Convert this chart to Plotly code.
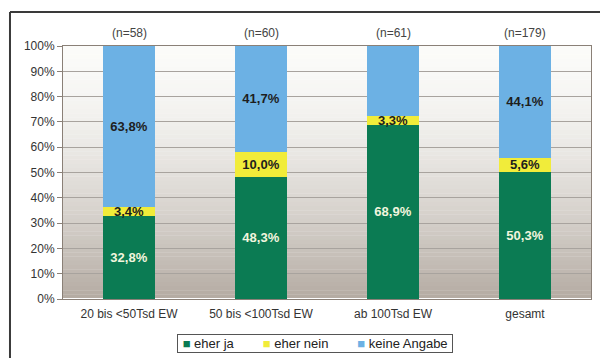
import plotly.graph_objects as go

# Survey answers by municipality size (share in %)
categories = ["20 bis <50Tsd EW", "50 bis <100Tsd EW", "ab 100Tsd EW", "gesamt"]
sample_sizes = ["(n=58)", "(n=60)", "(n=61)", "(n=179)"]
eher_ja = [32.8, 48.3, 68.9, 50.3]
eher_nein = [3.4, 10.0, 3.3, 5.6]
keine_angabe = [63.8, 41.7, 27.9, 44.1]

series = [
    ("eher ja", eher_ja, "#0b7b53", "#f2f5de"),
    ("eher nein", eher_nein, "#f1ec3a", "#1e1e1e"),
    ("keine Angabe", keine_angabe, "#6cb1e4", "#1e1e1e"),
]

fig = go.Figure()
for name, vals, color, tcolor in series:
    fig.add_trace(go.Bar(
        x=categories, y=vals, name=name,
        marker=dict(color=color, line=dict(width=0)),
        texttemplate="%{y:.1f}%", textposition="inside",
        insidetextanchor="middle", constraintext="none", textangle=0,
        textfont=dict(family="Arial, Liberation Sans", size=13,
                      color=tcolor, weight="bold"),
        cliponaxis=False, showlegend=False,
    ))

# Sample sizes above the columns
for cat, n in zip(categories, sample_sizes):
    fig.add_annotation(x=cat, y=100, yref="y", text=n, showarrow=False,
                       yanchor="bottom", yshift=4,
                       font=dict(family="Arial, Liberation Sans", size=12, color="#444"))

# Compact boxed legend below the axis
gap = "&nbsp;" * 8
legend_text = "&nbsp;" + gap.join(
    "<span style='color:%s'>■</span>&nbsp;%s" % (color, name)
    for name, _, color, _ in series
) + "&nbsp;"
fig.add_annotation(xref="paper", yref="paper", x=0.477, y=-0.174,
                   xanchor="center", yanchor="middle", showarrow=False,
                   text=legend_text, bordercolor="#555", borderwidth=1,
                   borderpad=1, bgcolor="white",
                   font=dict(family="Arial, Liberation Sans", size=13, color="#222"))

# Vertical gradient behind the plot area (light at top, warm grey at bottom)
shapes = []
steps = 60
top = (251, 251, 249)
bottom = (180, 171, 162)
for i in range(steps):
    t = (i + 0.5) / steps
    w = t ** 1.6
    c = tuple(round(top[k] + (bottom[k] - top[k]) * w) for k in range(3))
    shapes.append(dict(
        type="rect", xref="paper", yref="paper",
        x0=0, x1=1, y0=1 - (i + 1) / steps, y1=1 - i / steps + 0.001,
        fillcolor="rgb(%d,%d,%d)" % c, line=dict(width=0), layer="below",
    ))

# Outer frame lines (top and left)
frame = dict(color="#3a3a3a", width=2)
shapes.append(dict(type="line", xref="paper", yref="paper",
                   x0=-0.1004, x1=1.02, y0=1.1344, y1=1.1344, line=frame))
shapes.append(dict(type="line", xref="paper", yref="paper",
                   x0=-0.1004, x1=-0.1004, y0=1.1344, y1=-0.24, line=frame))

fig.update_layout(
    barmode="stack", bargap=0.6,
    width=600, height=358,
    margin=dict(l=63, r=9, t=46, b=59, autoexpand=False),
    paper_bgcolor="white", plot_bgcolor="white",
    separators=",.",
    font=dict(family="Arial, Liberation Sans", size=12, color="#333"),
    shapes=shapes,
    showlegend=False,
    xaxis=dict(showline=True, linecolor="#8a8077", mirror=True, linewidth=1,
               ticks="", ticklabelstandoff=4,
               tickfont=dict(size=12, color="#333"),
               range=[-0.5, 3.5]),
    yaxis=dict(range=[0, 100], dtick=10, ticksuffix="%", showgrid=True,
               gridcolor="#a8a39e", gridwidth=1, showline=True,
               linecolor="#8a8077", mirror=True, linewidth=1,
               ticks="outside", ticklen=5, tickcolor="#8a8077",
               tickfont=dict(size=12, color="#333")),
)

fig.write_html("out.html")
